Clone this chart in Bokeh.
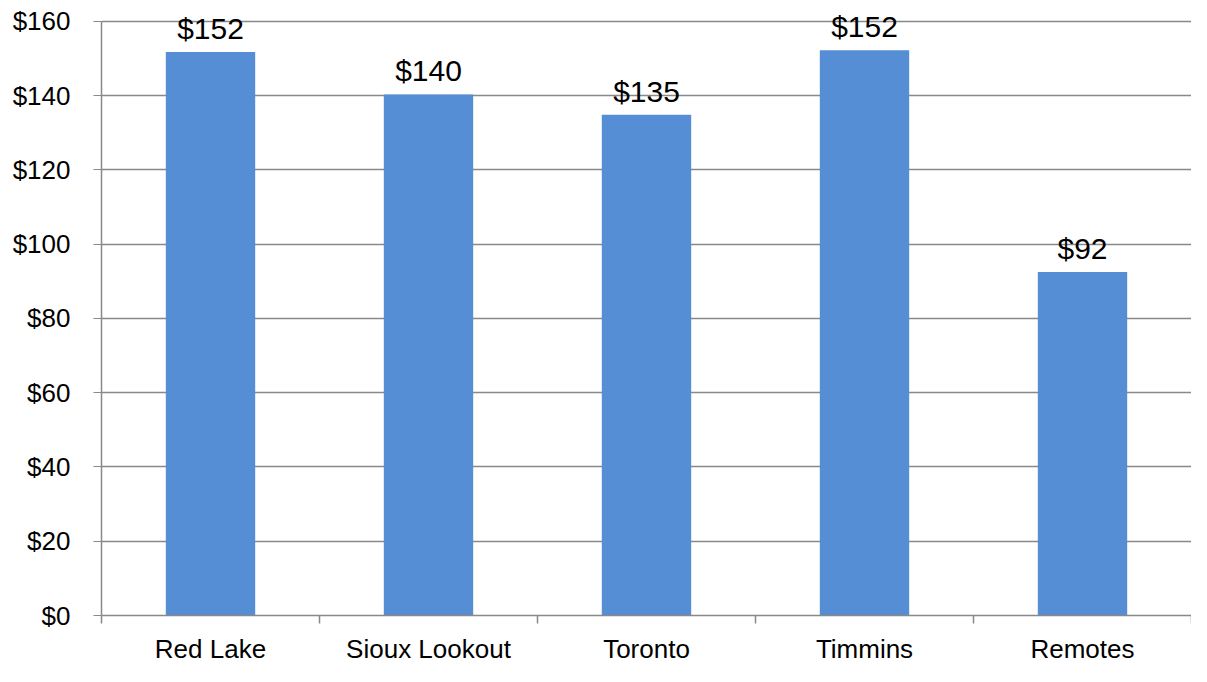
from bokeh.plotting import figure
from bokeh.models import ColumnDataSource, FixedTicker, Range1d, NumeralTickFormatter, LabelSet
from bokeh.core.properties import value
from bokeh.embed import file_html
from bokeh.resources import INLINE

categories = ["Red Lake", "Sioux Lookout", "Toronto", "Timmins", "Remotes"]
values = [151.7, 140.3, 134.8, 152.2, 92.5]
labels = ["$152", "$140", "$135", "$152", "$92"]
y_ticks = list(range(0, 161, 20))

xs = [i + 0.5 for i in range(len(categories))]
src = ColumnDataSource(dict(x=xs, top=values, lab=labels, cat=categories))

p = figure(width=1191, height=666, output_backend="svg", toolbar_location=None,
           x_range=Range1d(0, len(categories)), y_range=Range1d(0, 164.5),
           min_border_left=101, min_border_right=0, min_border_top=4, min_border_bottom=40)
p.outline_line_color = None
p.background_fill_color = "white"

p.vbar(x="x", top="top", width=0.41, source=src, fill_color="#558ED5", line_color=None)

lbl = LabelSet(x="x", y="top", text="lab", source=src, text_align="center", text_baseline="bottom",
               y_offset=7, text_font=value("Liberation Sans"), text_font_size="30px", text_color="black")
p.add_layout(lbl)

# y axis
p.yaxis.ticker = FixedTicker(ticks=y_ticks)
p.yaxis.bounds = (0, 160)
p.yaxis.formatter = NumeralTickFormatter(format="$0")
p.yaxis.major_label_text_font = "Liberation Sans"
p.yaxis.major_label_text_font_size = "26px"
p.yaxis.major_label_text_color = "black"
p.yaxis.major_tick_out = 8
p.yaxis.major_tick_in = 0
p.yaxis.minor_tick_line_color = None
p.yaxis.major_label_standoff = 23
p.yaxis.axis_line_color = "#898989"
p.yaxis.major_tick_line_color = "#898989"
p.yaxis.axis_line_width = 1.5
p.ygrid.ticker = FixedTicker(ticks=y_ticks)
p.ygrid.grid_line_color = "#898989"
p.ygrid.grid_line_width = 1.5

# x axis
p.xaxis.ticker = FixedTicker(ticks=xs, minor_ticks=list(range(0, len(categories) + 1)))
p.xaxis.major_label_overrides = {x: c for x, c in zip(xs, categories)}
p.xaxis.major_tick_line_color = None
p.xaxis.major_tick_out = 8
p.xaxis.minor_tick_line_color = "#898989"
p.xaxis.minor_tick_out = 8
p.xaxis.minor_tick_in = 0
p.xaxis.minor_tick_line_width = 1.5
p.xaxis.axis_line_color = "#898989"
p.xaxis.axis_line_width = 1.5
p.xaxis.major_label_text_font = "Liberation Sans"
p.xaxis.major_label_text_font_size = "26px"
p.xaxis.major_label_text_color = "black"
p.xaxis.major_label_standoff = 10
p.xgrid.grid_line_color = None

open("out.html", "w").write(file_html(p, INLINE))
